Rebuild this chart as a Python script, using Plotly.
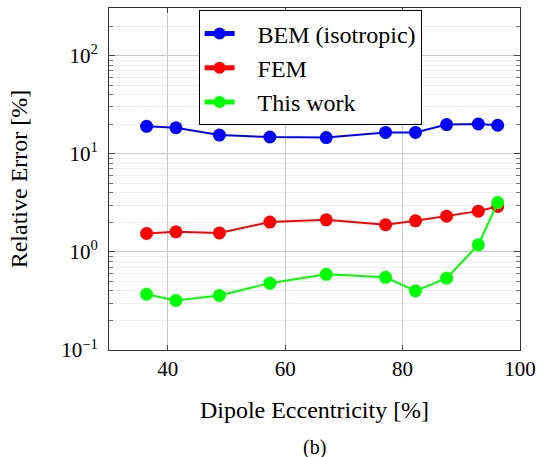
import plotly.graph_objects as go
import numpy as np

eccentricity = [36.4, 41.4, 48.8, 57.4, 67.0, 77.1, 82.2, 87.5, 92.9, 96.2]
bem_iso = [19.0, 18.4, 15.5, 14.8, 14.6, 16.5, 16.5, 19.8, 20.1, 19.5]
fem = [1.54, 1.60, 1.56, 2.01, 2.12, 1.89, 2.07, 2.31, 2.60, 2.90]
this_work = [0.37, 0.32, 0.36, 0.48, 0.59, 0.55, 0.40, 0.54, 1.18, 3.18]

series_names = ["BEM (isotropic)", "FEM", "This work"]
series_colors = ["#0000ff", "#ff0000", "#00ff00"]
series_values = [bem_iso, fem, this_work]

y_tickvals = [0.1, 1, 10, 100]
y_ticktext = ["10<sup>−1</sup>", "10<sup>0</sup>", "10<sup>1</sup>", "10<sup>2</sup>"]
x_tickvals = [40, 60, 80, 100]

FONT = "Liberation Serif"
PAD = "\u00a0\u00a0\u00a0"

fig = go.Figure()
for name, color, vals in zip(series_names, series_colors, series_values):
    fig.add_trace(go.Scatter(
        x=eccentricity, y=vals, name=PAD + name, mode="lines+markers",
        line=dict(color=color, width=2),
        marker=dict(color=color, size=13, line=dict(width=0)),
    ))

fig.update_layout(
    width=543, height=457,
    margin=dict(l=109, r=18, t=7, b=107),
    paper_bgcolor="white", plot_bgcolor="white",
    font=dict(family=FONT, size=20, color="black"),
    showlegend=True,
    legend=dict(
        x=0.218, y=0.993, xanchor="left", yanchor="top",
        bgcolor="white", bordercolor="black", borderwidth=1,
        font=dict(family=FONT, size=24),
        tracegroupgap=0, itemsizing="constant",
    ),
    annotations=[dict(
        text="(b)", x=0.5, y=-0.285, xref="paper", yref="paper",
        showarrow=False, font=dict(family=FONT, size=20), xanchor="center", yanchor="middle",
    )],
)

fig.update_xaxes(
    range=[30, 100], tickvals=x_tickvals, ticks="inside", ticklen=5,
    showline=True, linecolor="#333", linewidth=1, mirror="ticks",
    showgrid=True, gridcolor="#c8c8c8", gridwidth=1, zeroline=False,
    tickfont=dict(family=FONT, size=21),
    title=dict(text="Dipole Eccentricity [%]", font=dict(family=FONT, size=24), standoff=20),
)
fig.update_yaxes(
    type="log", range=[-1, 2.485], tickvals=y_tickvals, ticktext=y_ticktext,
    ticks="inside", ticklen=6, ticklabelstandoff=6,
    showline=True, linecolor="#333", linewidth=1, mirror="ticks",
    showgrid=True, gridcolor="#c8c8c8", gridwidth=1, zeroline=False,
    tickfont=dict(family=FONT, size=21),
    minor=dict(ticks="inside", ticklen=4, tickcolor="#777", showgrid=True, gridcolor="#efefef",
               tickvals=[v * m for v in [0.1, 1, 10, 100] for m in range(2, 10) if v * m < 310]),
    title=dict(text="Relative Error [%]", font=dict(family=FONT, size=24), standoff=26),
)

fig.write_html("out.html")
